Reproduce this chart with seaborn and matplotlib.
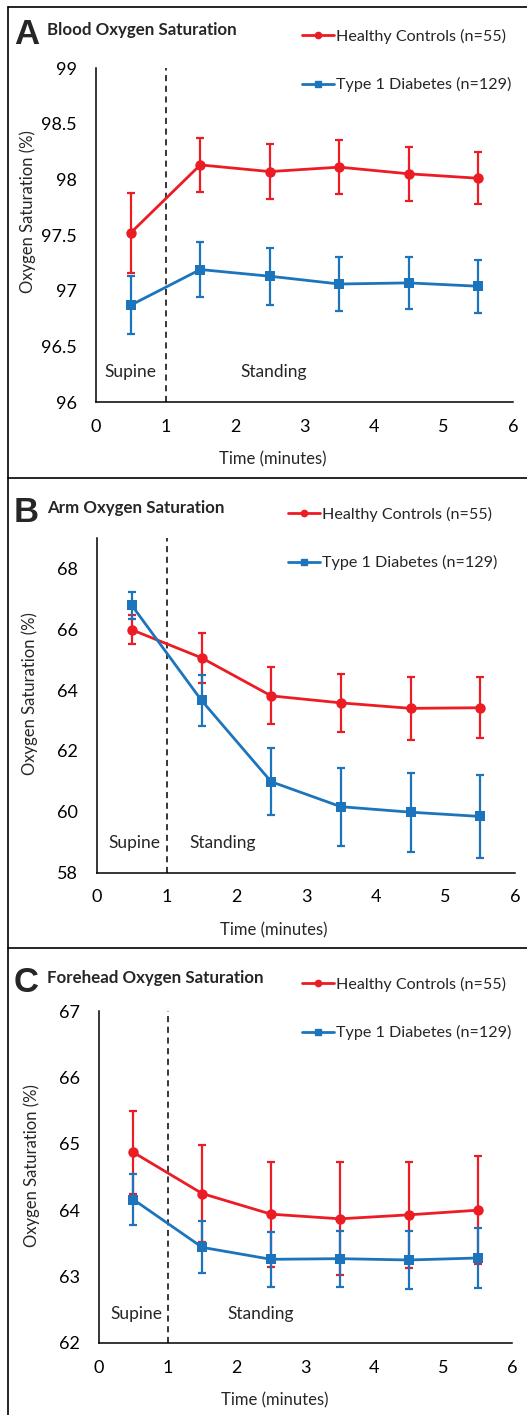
import matplotlib
matplotlib.use("Agg")
import matplotlib.pyplot as plt
from matplotlib.lines import Line2D
import numpy as np
import pandas as pd
import seaborn as sns

sns.set_style("white")
plt.rcParams["font.family"] = ["Lato", "DejaVu Sans"]

time = [0.5, 1.5, 2.5, 3.5, 4.5, 5.5]
label_hc = "Healthy Controls (n=55)"
label_t1d = "Type 1 Diabetes (n=129)"

# panel A: blood
blood_hc = [97.52, 98.13, 98.07, 98.11, 98.05, 98.01]
blood_hc_err = [0.36, 0.24, 0.245, 0.245, 0.24, 0.235]
blood_t1d = [96.87, 97.19, 97.13, 97.06, 97.07, 97.04]
blood_t1d_err = [0.26, 0.25, 0.255, 0.24, 0.235, 0.24]

# panel B: arm
arm_hc = [65.98, 65.06, 63.81, 63.58, 63.40, 63.42]
arm_hc_err = [0.48, 0.82, 0.94, 0.96, 1.04, 1.0]
arm_t1d = [66.78, 63.66, 60.99, 60.17, 59.99, 59.85]
arm_t1d_err = [0.43, 0.83, 1.1, 1.28, 1.3, 1.35]

# panel C: forehead
head_hc = [64.87, 64.25, 63.94, 63.87, 63.93, 64.00]
head_hc_err = [0.62, 0.73, 0.79, 0.85, 0.80, 0.81]
head_t1d = [64.16, 63.44, 63.26, 63.27, 63.25, 63.28]
head_t1d_err = [0.38, 0.39, 0.41, 0.42, 0.44, 0.45]

red = "#EC1C24"
blue = "#1C75BC"

panels = [
    dict(letter="A", title="Blood Oxygen Saturation", hc=blood_hc, hce=blood_hc_err,
         t1=blood_t1d, t1e=blood_t1d_err, ylim=(96, 99), yticks=np.arange(96, 99.01, 0.5),
         pos=[0.1822, 0.7159, 0.7913, 0.2360],
         sup=(0.5, 96.27), stand=(2.56, 96.27), top=0, leg_x=302,
         xlab=(273, 459), ylab=(28, 212)),
    dict(letter="B", title="Arm Oxygen Saturation", hc=arm_hc, hce=arm_hc_err,
         t1=arm_t1d, t1e=arm_t1d_err, ylim=(58, 69), yticks=np.arange(58, 68.1, 2),
         pos=[0.1841, 0.3832, 0.7932, 0.2367],
         sup=(0.53, 58.97), stand=(1.81, 58.97), top=478, leg_x=288,
         xlab=(274, 930), ylab=(30, 694)),
    dict(letter="C", title="Forehead Oxygen Saturation", hc=head_hc, hce=head_hc_err,
         t1=head_t1d, t1e=head_t1d_err, ylim=(62, 67), yticks=np.arange(62, 67.1, 1),
         pos=[0.1879, 0.0509, 0.7837, 0.2346],
         sup=(0.54, 62.44), stand=(2.35, 62.44), top=948, leg_x=302,
         xlab=(275, 1400), ylab=(32, 1166)),
]

W, H = 527, 1415
fig = plt.figure(figsize=(W / 100, H / 100), dpi=100)

for p in panels:
    ax = fig.add_axes(p["pos"])
    df = pd.DataFrame({"time": time * 2,
                       "value": p["hc"] + p["t1"],
                       "group": [label_hc] * 6 + [label_t1d] * 6})
    ax.errorbar(time, p["hc"], yerr=p["hce"], fmt="none", ecolor=red,
                elinewidth=1.6, capsize=3, capthick=1.6, zorder=2)
    sns.lineplot(data=df[df.group == label_hc], x="time", y="value", color=red,
                 marker="o", markersize=7.5, markeredgewidth=0, linewidth=2,
                 ax=ax, legend=False, zorder=3)
    ax.errorbar(time, p["t1"], yerr=p["t1e"], fmt="none", ecolor=blue,
                elinewidth=1.6, capsize=3, capthick=1.6, zorder=4)
    sns.lineplot(data=df[df.group == label_t1d], x="time", y="value", color=blue,
                 marker="s", markersize=7, markeredgewidth=0, linewidth=2,
                 ax=ax, legend=False, zorder=5)

    ax.axvline(1, color="black", linestyle=(0, (4, 3)), linewidth=1.1, zorder=1)
    ax.set_xlim(0, 6)
    ax.set_ylim(*p["ylim"])
    ax.set_xticks(range(7))
    ax.set_yticks(p["yticks"])
    ax.set_yticklabels([f"{v:g}" for v in p["yticks"]])
    ax.tick_params(axis="both", direction="in", length=4, width=1.1,
                   labelsize=13, colors="black", pad=12)
    ax.tick_params(axis="y", pad=14)
    sns.despine(ax=ax)
    for s in ["left", "bottom"]:
        ax.spines[s].set_linewidth(1.1)
        ax.spines[s].set_color("black")
    ax.set_xlabel("Time (minutes)", fontsize=12)
    ax.set_ylabel("Oxygen Saturation (%)", fontsize=12)
    ax.xaxis.label.set_va("center")
    ax.yaxis.label.set_va("center")
    ax.xaxis.set_label_coords(p["xlab"][0] / W, 1 - p["xlab"][1] / H,
                              transform=fig.transFigure)
    ax.yaxis.set_label_coords(p["ylab"][0] / W, 1 - p["ylab"][1] / H,
                              transform=fig.transFigure)
    ax.text(*p["sup"], "Supine", fontsize=12.5, ha="center", va="center")
    ax.text(*p["stand"], "Standing", fontsize=12.5, ha="center", va="center")

    handles = [Line2D([], [], color=red, marker="o", markersize=4.5, linewidth=2),
               Line2D([], [], color=blue, marker="s", markersize=4.5, linewidth=2)]
    ax.legend(handles, [label_hc, label_t1d], loc="upper left", frameon=False,
              bbox_to_anchor=(p["leg_x"] / W, 1 - (p["top"] + 29) / H),
              bbox_transform=fig.transFigure, fontsize=11.6, borderpad=0,
              borderaxespad=0, handlelength=2.0, handletextpad=0.1,
              labelspacing=2.05)

    fig.text(14 / W, 1 - (p["top"] + 44) / H, p["letter"], fontsize=25,
             fontweight="bold", family=["Liberation Sans", "DejaVu Sans"],
             ha="left", va="baseline")
    fig.text(47 / W, 1 - (p["top"] + 30) / H, p["title"], fontsize=12.2,
             fontweight="bold", ha="left", va="center")

# panel frames
fig.add_artist(Line2D([8 / W, 8 / W], [0, 1 - 7 / H], color="black", linewidth=1.2,
                      transform=fig.transFigure))
for yy in [7, 478, 948]:
    fig.add_artist(Line2D([8 / W, 1], [1 - yy / H, 1 - yy / H], color="black",
                          linewidth=1.2, transform=fig.transFigure))

fig.savefig("out.png", dpi=100)
